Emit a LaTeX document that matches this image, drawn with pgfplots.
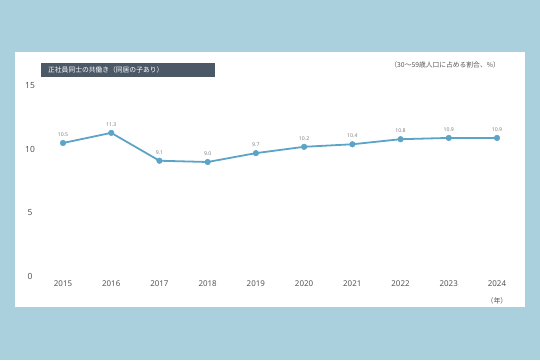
\documentclass[border=0pt]{standalone}
\usepackage{pgfplots}
\pgfplotsset{compat=1.18}
\usepackage{fontspec}
\setmainfont{Noto Sans}
\newfontfamily\cjk{Noto Sans CJK JP}
\definecolor{bgblue}{HTML}{A9D0DC}
\definecolor{titlebox}{HTML}{4B5967}
\definecolor{linec}{HTML}{5BA4C7}
\definecolor{txtgray}{HTML}{555555}
\begin{document}
\begin{tikzpicture}[x=1bp,y=1bp]
\fill[bgblue] (0,0) rectangle (540,360);
\fill[white] (15,53) rectangle (525,308);
\fill[titlebox] (41,283) rectangle (215,297);
\node[anchor=west,text=white,font=\cjk\fontsize{6.8}{7}\selectfont,inner sep=0] at (48,290) {正社員同士の共働き（同居の子あり）};
\node[anchor=east,text=txtgray,font=\cjk\fontsize{6.8}{7}\selectfont,inner sep=0] at (500,295) {（30～59歳人口に占める割合、\%）};
\begin{axis}[
  at={(63bp,84bp)}, anchor=origin,
  scale only axis, width=434bp, height=190bp,
  xmin=2015, xmax=2024, ymin=0, ymax=15,
  axis line style={draw=none}, tick style={draw=none},
  clip=false,
  xtick={2015,...,2024}, ytick={0,5,10,15},
  xticklabel style={anchor=center, yshift=-8bp, font=\fontsize{8}{9}\selectfont, text=txtgray},
  yticklabel style={anchor=center, xshift=-33bp, font=\fontsize{8.5}{9}\selectfont, text=txtgray},
  x tick label style={/pgf/number format/.cd, set thousands separator={}},
  /pgf/number format/assume math mode=true,
  nodes near coords,
  point meta=explicit symbolic,
  every node near coord/.append style={font=\fontsize{5.2}{6}\selectfont, text=gray, yshift=3bp},
]
\addplot[color=linec, line width=1.8pt, mark=*, mark size=2.8pt, mark options={fill=linec, draw=linec, line width=0.5pt}]
 table[meta=lab] {
x y lab
2015 10.5 10.5
2016 11.3 11.3
2017 9.1 9.1
2018 9.0 9.0
2019 9.7 9.7
2020 10.2 10.2
2021 10.4 10.4
2022 10.8 10.8
2023 10.9 10.9
2024 10.9 10.9
};
\node[text=txtgray, font=\cjk\fontsize{7}{8}\selectfont] at (axis cs:2024,0) [yshift=-25bp] {（年）};
\end{axis}
\end{tikzpicture}
\end{document}
